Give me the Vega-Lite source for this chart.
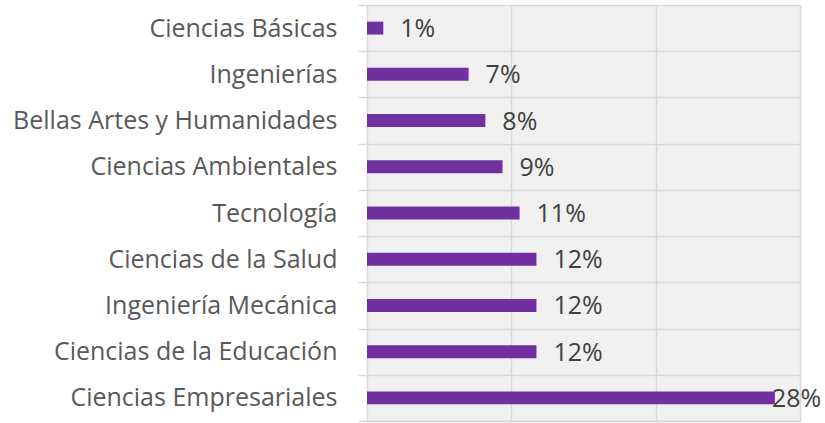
{
  "$schema": "https://vega.github.io/schema/vega-lite/v6.json",
  "width": 433,
  "height": 416,
  "autosize": {"type": "none"},
  "padding": {"left": 367, "top": 5, "right": 25, "bottom": 2},
  "background": "white",
  "config": {
    "view": {"fill": "#f0f0f0", "stroke": null},
    "font": "Open Sans"
  },
  "data": {
    "values": [
      {"area": "Ciencias Básicas", "value": 0.0113, "label": "1%"},
      {"area": "Ingenierías", "value": 0.0704, "label": "7%"},
      {"area": "Bellas Artes y Humanidades", "value": 0.082, "label": "8%"},
      {"area": "Ciencias Ambientales", "value": 0.0939, "label": "9%"},
      {"area": "Tecnología", "value": 0.1057, "label": "11%"},
      {"area": "Ciencias de la Salud\u00a0", "value": 0.1174, "label": "12%"},
      {"area": "Ingeniería Mecánica", "value": 0.1174, "label": "12%"},
      {"area": "Ciencias de la Educación", "value": 0.1174, "label": "12%"},
      {"area": "Ciencias Empresariales", "value": 0.2826, "label": "28%"}
    ]
  },
  "encoding": {
    "y": {
      "field": "area",
      "type": "nominal",
      "sort": null,
      "title": null,
      "scale": {"paddingInner": 0, "paddingOuter": 0},
      "axis": {
        "tickBand": "extent",
        "grid": true,
        "gridColor": "#d9d9d9",
        "gridWidth": 1.5,
        "domainColor": "#d9d9d9",
        "domainWidth": 1.5,
        "tickColor": "#d9d9d9",
        "tickWidth": 1.5,
        "tickSize": 9,
        "labelPadding": 21,
        "labelFontSize": 25,
        "labelColor": "#595959",
        "labelFont": "Open Sans",
        "labelLimit": 400
      }
    },
    "x": {
      "field": "value",
      "type": "quantitative",
      "title": null,
      "scale": {"domain": [0, 0.3], "nice": false},
      "axis": {
        "values": [0.1, 0.2, 0.3],
        "labels": false,
        "ticks": false,
        "domain": true,
        "domainColor": "#d9d9d9",
        "domainWidth": 1.5,
        "grid": true,
        "gridColor": "#d9d9d9",
        "gridWidth": 1.5
      }
    }
  },
  "layer": [
    {
      "mark": {"type": "bar", "color": "#7030a0", "height": {"band": 0.28}}
    },
    {
      "transform": [{"filter": "datum.value < 0.2"}],
      "mark": {"type": "text", "align": "left", "baseline": "middle", "dx": 17, "dy": 1, "fontSize": 25, "color": "#404040", "font": "Open Sans"},
      "encoding": {"text": {"field": "label"}}
    },
    {
      "transform": [{"filter": "datum.value >= 0.2"}],
      "mark": {"type": "text", "align": "left", "baseline": "middle", "dx": -3, "dy": 1, "fontSize": 25, "color": "#404040", "font": "Open Sans"},
      "encoding": {"text": {"field": "label"}}
    }
  ]
}
